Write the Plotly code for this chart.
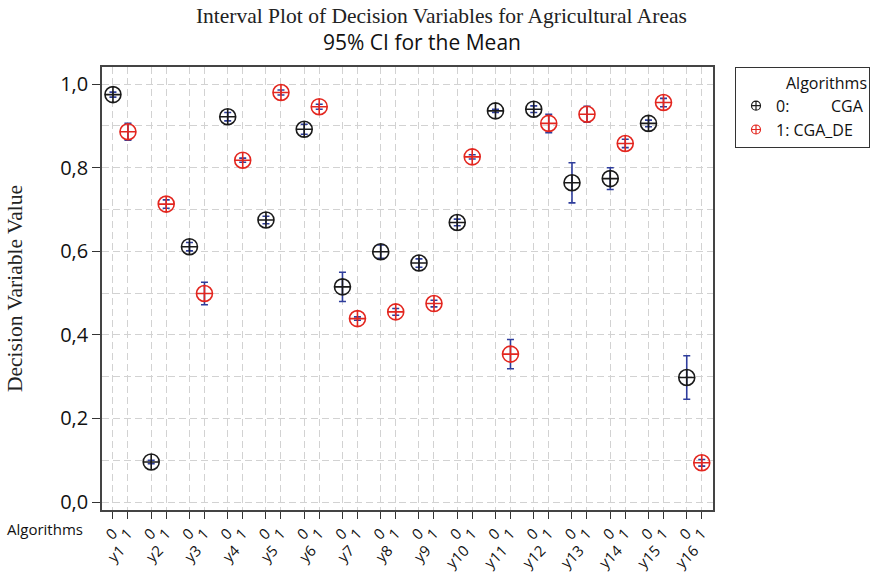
import plotly.graph_objects as go

# ---------------- data ----------------
groups = ["y1", "y2", "y3", "y4", "y5", "y6", "y7", "y8",
          "y9", "y10", "y11", "y12", "y13", "y14", "y15", "y16"]
algo_codes = ["0", "1"]
algo_names = ["CGA", "CGA_DE"]

cga_mean = [0.975, 0.096, 0.611, 0.922, 0.675, 0.892, 0.515, 0.599,
            0.572, 0.669, 0.936, 0.940, 0.764, 0.774, 0.906, 0.298]
cga_ci = [0.006, 0.004, 0.010, 0.010, 0.009, 0.012, 0.035, 0.016,
          0.010, 0.008, 0.004, 0.008, 0.048, 0.026, 0.008, 0.052]

de_mean = [0.886, 0.713, 0.499, 0.818, 0.980, 0.946, 0.439, 0.455,
           0.475, 0.826, 0.354, 0.906, 0.928, 0.858, 0.956, 0.094]
de_ci = [0.020, 0.010, 0.027, 0.005, 0.006, 0.006, 0.004, 0.008,
         0.008, 0.005, 0.035, 0.022, 0.019, 0.010, 0.010, 0.008]

y_tick_vals = [0.0, 0.2, 0.4, 0.6, 0.8, 1.0]
y_tick_text = ["0,0", "0,2", "0,4", "0,6", "0,8", "1,0"]
y_minor_vals = [0.1, 0.3, 0.5, 0.7, 0.9]

# ---------------- layout helpers ----------------
GROUP_STEP = 2.55
x0 = [i * GROUP_STEP for i in range(len(groups))]
x1 = [i * GROUP_STEP + 1 for i in range(len(groups))]
x_centers = [i * GROUP_STEP + 0.5 for i in range(len(groups))]
x_ticks = sorted(x0 + x1)
x_tick_text = [algo_codes[0] if (k % 2 == 0) else algo_codes[1] for k in range(len(x_ticks))]
X_RANGE = [-0.73, 40.0]

BLACK = "#1a1a1a"
RED = "#e3261f"
BLUE = "#2e3d9c"
GRID = "#d2d2d2"
SANS = "Open Sans"
SERIF = "Liberation Serif"
NB = "\u00a0"

fig = go.Figure()

fig.add_trace(go.Scatter(
    x=x0, y=cga_mean, mode="markers", showlegend=False,
    error_y=dict(type="data", array=cga_ci, color=BLUE, thickness=1.6, width=3.5),
    marker=dict(symbol="circle-cross-open", size=16, color=BLACK, line=dict(width=1.6, color=BLACK)),
))
fig.add_trace(go.Scatter(
    x=x1, y=de_mean, mode="markers", showlegend=False,
    error_y=dict(type="data", array=de_ci, color=BLUE, thickness=1.6, width=3.5),
    marker=dict(symbol="circle-cross-open", size=16, color=RED, line=dict(width=1.6, color=RED)),
))

# legend entries (small markers, as in the reference)
fig.add_trace(go.Scatter(
    x=[None], y=[None], mode="markers", xaxis="x2",
    name=algo_codes[0] + ":" + NB * 10 + algo_names[0],
    marker=dict(symbol="circle-cross-open", size=9, color=BLACK, line=dict(width=1.2, color=BLACK)),
))
fig.add_trace(go.Scatter(
    x=[None], y=[None], mode="markers", xaxis="x2",
    name=algo_codes[1] + ": " + algo_names[1],
    marker=dict(symbol="circle-cross-open", size=9, color=RED, line=dict(width=1.2, color=RED)),
))

fig.update_layout(
    width=874, height=573,
    margin=dict(l=102, r=161, t=67, b=63, autoexpand=False),
    paper_bgcolor="white", plot_bgcolor="white",
    title=dict(
        text="Interval Plot of Decision Variables for Agricultural Areas",
        font=dict(family=SERIF, size=21.5, color="#222"),
        x=0.505, xanchor="center", xref="container",
        y=1 - 15 / 573, yanchor="middle", yref="container",
        automargin=False,
    ),
    xaxis=dict(
        range=X_RANGE, tickmode="array", tickvals=x_ticks, ticktext=x_tick_text,
        tickangle=-45, tickfont=dict(family=SANS, size=15, color="#111"),
        ticks="outside", ticklen=7, tickwidth=1.2, tickcolor="#333",
        showgrid=True, gridcolor=GRID, griddash="7px,4px", gridwidth=1,
        showline=True, linecolor="#444", linewidth=1.6, mirror=True,
        zeroline=False, automargin=False,
    ),
    xaxis2=dict(
        range=X_RANGE, overlaying="x", anchor="y", side="bottom",
        tickmode="array", tickvals=x_centers, ticktext=groups,
        tickangle=-45, tickfont=dict(family=SANS, size=15, color="#111"),
        ticks="", showgrid=False, zeroline=False, showline=False,
        ticklabelstandoff=28, automargin=False,
    ),
    yaxis=dict(
        range=[-0.019, 1.041], tickmode="array", tickvals=y_tick_vals, ticktext=y_tick_text,
        tickfont=dict(family=SANS, size=20, color="#111"),
        ticks="outside", ticklen=8, tickwidth=1.2, tickcolor="#333",
        showgrid=True, gridcolor=GRID, griddash="7px,4px", gridwidth=1,
        minor=dict(tickvals=y_minor_vals, showgrid=True, gridcolor=GRID,
                   griddash="7px,4px", gridwidth=1, ticks=""),
        showline=True, linecolor="#444", linewidth=1.6, mirror=True,
        zeroline=False, automargin=False,
        title=dict(text="Decision Variable Value", font=dict(family=SERIF, size=21.5, color="#222"),
                   standoff=32),
    ),
    legend=dict(
        title=dict(text="Algorithms", side="top right", font=dict(family=SANS, size=16, color="#111")),
        font=dict(family=SANS, size=16, color="#111"),
        x=(735 - 102) / 611, xanchor="left", y=1.0, yanchor="top",
        bordercolor="#333", borderwidth=1, bgcolor="white",
        itemwidth=30, tracegroupgap=0,
    ),
    annotations=[
        dict(text="95% CI for the Mean", xref="paper", yref="paper",
             x=0.524, y=1, yshift=25, xanchor="center", yanchor="middle",
             showarrow=False, font=dict(family=SANS, size=21, color="#111")),
        dict(text="Algorithms", xref="paper", yref="paper",
             x=-0.028, y=0, yshift=-19, xanchor="right", yanchor="middle",
             showarrow=False, font=dict(family=SANS, size=15, color="#111")),
    ],
)

fig.write_html("out.html", config={"displayModeBar": False},
               post_script="document.body.style.margin='0px';")
